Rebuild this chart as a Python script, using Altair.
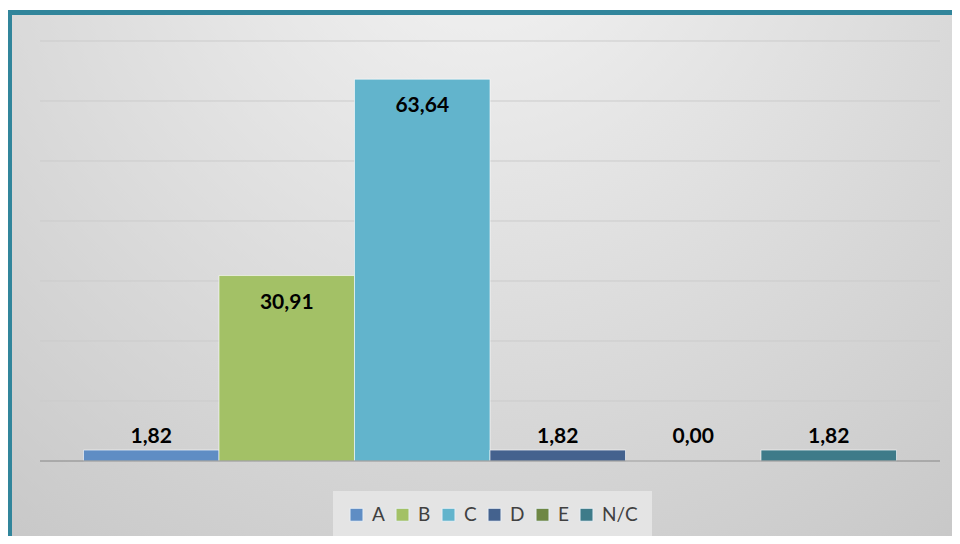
import altair as alt
import pandas as pd

categories = ["A", "B", "C", "D", "E", "N/C"]
values = [1.82, 30.91, 63.64, 1.82, 0.00, 1.82]
labels = ["1,82", "30,91", "63,64", "1,82", "0,00", "1,82"]
colors = ["#5f8dc4", "#a3c166", "#62b4cc", "#44628e", "#6e8744", "#3e7b89"]
y_ticks = [0, 10, 20, 30, 40, 50, 60, 70]

df = pd.DataFrame({"cat": categories, "value": values, "label": labels})
grid_df = pd.DataFrame({"t": y_ticks[1:]})
base_df = pd.DataFrame({"t": [0]})
one = pd.DataFrame({"k": [0]})

W, H = 900, 420
TEAL = "#31859b"

yscale = alt.Scale(domain=[0, 70], nice=False, zero=True)
xenc = alt.X("cat:N", sort=categories,
             scale=alt.Scale(paddingInner=0, paddingOuter=0.321), axis=None)

bg = alt.Chart(one).mark_rect(
    fill=alt.Gradient(
        gradient="radial",
        stops=[alt.GradientStop(color="#f4f4f4", offset=0),
               alt.GradientStop(color="#c8c8c8", offset=1)],
        x1=0.5, y1=0.1, x2=0.5, y2=0.1, r1=0, r2=0.85),
).encode(x=alt.value(-30.5), x2=alt.value(912), y=alt.value(-28.5), y2=alt.value(495))

left_border = alt.Chart(one).mark_rule(color=TEAL, strokeWidth=5).encode(
    x=alt.value(-30.5), y=alt.value(-31), y2=alt.value(495))
top_border = alt.Chart(one).mark_rule(color=TEAL, strokeWidth=5).encode(
    y=alt.value(-28.5), x=alt.value(-33), x2=alt.value(912))

grid = alt.Chart(grid_df).mark_rule(color="#cbcbcb", strokeWidth=1).encode(
    y=alt.Y("t:Q", scale=yscale, axis=None))

baseline = alt.Chart(base_df).mark_rule(color="#868686", strokeWidth=1).encode(
    y=alt.Y("t:Q", scale=yscale, axis=None))

bars = alt.Chart(df).mark_bar(stroke="#ffffff", strokeOpacity=0.6, strokeWidth=1).encode(
    x=xenc,
    y=alt.Y("value:Q", scale=yscale, axis=None),
    color=alt.Color("cat:N", sort=categories,
                    scale=alt.Scale(domain=categories, range=colors),
                    legend=alt.Legend(
                        title=None, orient="none", legendX=293, legendY=450,
                        direction="horizontal", columns=6,
                        symbolType="square", symbolSize=169,
                        symbolStrokeColor="#e8eef4", symbolStrokeWidth=1,
                        labelFont="Lato", labelFontSize=19, labelColor="#404040",
                        labelOffset=6, columnPadding=8, padding=14,
                        fillColor="#e4e4e4")),
)

big = alt.Chart(df).transform_filter("datum.value >= 10").mark_text(
    font="Lato", fontWeight="bold", fontSize=21, dy=27, color="black"
).encode(x=xenc, y=alt.Y("value:Q", scale=yscale, axis=None), text="label:N")

small = alt.Chart(df).transform_filter("datum.value < 10").mark_text(
    font="Lato", fontWeight="bold", fontSize=21, dy=-24, color="black"
).encode(x=xenc, y=alt.datum(0, scale=yscale, axis=None), text="label:N")

chart = alt.layer(bg, left_border, top_border, grid, bars, baseline, big, small).properties(
    width=W, height=H,
    autosize=alt.AutoSizeParams(type="none"),
    padding={"left": 32, "top": 33, "right": 12, "bottom": 75},
).configure_view(stroke=None)

chart.save("out.html", embed_options={"renderer": "svg", "actions": False})
